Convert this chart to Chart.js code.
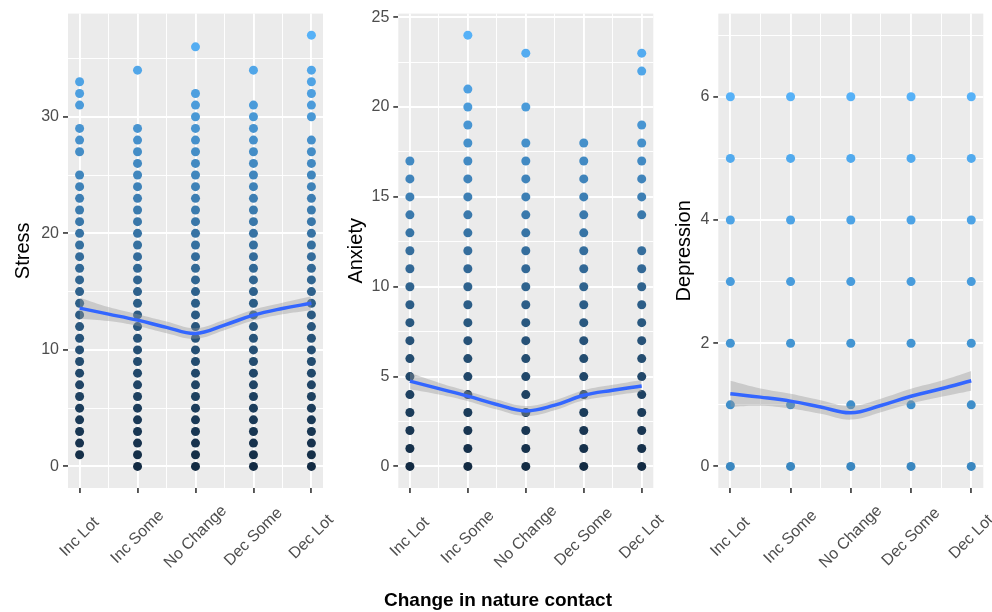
<!DOCTYPE html>
<html>
<head>
<meta charset="utf-8">
<script src="https://cdn.jsdelivr.net/npm/chart.js@4.4.1/dist/chart.umd.min.js"></script>
<style>
  html, body { margin: 0; padding: 0; background: #ffffff; }
  body { width: 992px; height: 612px; position: relative; overflow: hidden;
         font-family: "Liberation Sans", Arial, Helvetica, sans-serif; }
  .panel { position: absolute; top: 0; }
  .panel canvas { display: block; }
  #xtitle { position: absolute; left: 0; width: 996px; top: 590px; text-align: center;
            font-weight: bold; font-size: 19px; line-height: 19px; color: #000000; }
</style>
</head>
<body>
<div class="panel" style="left:0px"><canvas id="stressChart" width="345" height="612"></canvas></div>
<div class="panel" style="left:331px"><canvas id="anxietyChart" width="345" height="612"></canvas></div>
<div class="panel" style="left:662px"><canvas id="depressionChart" width="330" height="612"></canvas></div>
<div id="xtitle">Change in nature contact</div>

<script>
// Groups on the horizontal axis
const categories = ['Inc Lot', 'Inc Some', 'No Change', 'Dec Some', 'Dec Lot'];

// Observed scores per group (one inner list per category, in the order above)
const stressValues = [
  [1,2,3,4,5,6,7,8,9,10,11,12,13,14,15,16,17,18,19,20,21,22,23,24,25,27,28,29,31,32,33],
  [0,1,2,3,4,5,6,7,8,9,10,11,12,13,14,15,16,17,18,19,20,21,22,23,24,25,26,27,28,29,34],
  [0,1,2,3,4,5,6,7,8,9,10,11,12,13,14,15,16,17,18,19,20,21,22,23,24,25,26,27,28,29,30,31,32,36],
  [0,1,2,3,4,5,6,7,8,9,10,11,12,13,14,15,16,17,18,19,20,21,22,23,24,25,26,27,28,29,30,31,34],
  [0,1,2,3,4,5,6,7,8,9,10,11,12,13,14,15,16,17,18,19,20,21,22,23,24,25,26,27,28,30,31,32,33,34,37]
];
const anxietyValues = [
  [0,1,2,3,4,5,6,7,8,9,10,11,12,13,14,15,16,17],
  [0,1,2,3,4,5,6,7,8,9,10,11,12,13,14,15,16,17,18,19,20,21,24],
  [0,1,2,3,4,5,6,7,8,9,10,11,12,13,14,15,16,17,18,20,23],
  [0,1,2,3,4,5,6,7,8,9,10,11,12,13,14,15,16,17,18],
  [0,1,2,3,4,5,6,7,8,9,10,11,12,14,15,16,17,18,19,22,23]
];
const depressionValues = [
  [0,1,2,3,4,5,6],
  [0,1,2,3,4,5,6],
  [0,1,2,3,4,5,6],
  [0,1,2,3,4,5,6],
  [0,1,2,3,4,5,6]
];

// Smoothed trend with its confidence band, sampled at every half category
const fitX = [0, 0.5, 1, 1.5, 2, 2.5, 3, 3.5, 4];
const stressFit   = [13.58, 13.07, 12.55, 11.93, 11.41, 12.13, 12.98, 13.55, 14.00];
const stressUpper = [14.48, 13.67, 13.05, 12.43, 11.86, 12.58, 13.45, 14.05, 14.60];
const stressLower = [12.68, 12.47, 12.05, 11.43, 10.96, 11.68, 12.51, 13.05, 13.40];
const anxietyFit   = [4.75, 4.33, 3.91, 3.45, 3.09, 3.41, 3.96, 4.24, 4.48];
const anxietyUpper = [5.21, 4.66, 4.19, 3.73, 3.37, 3.69, 4.24, 4.54, 4.81];
const anxietyLower = [4.29, 4.00, 3.63, 3.17, 2.81, 3.13, 3.68, 3.94, 4.15];
const depressionFit   = [1.18, 1.125, 1.06, 0.965, 0.87, 0.99, 1.14, 1.26, 1.39];
const depressionUpper = [1.39, 1.265, 1.18, 1.075, 0.98, 1.10, 1.26, 1.39, 1.55];
const depressionLower = [0.97, 0.985, 0.94, 0.855, 0.76, 0.88, 1.02, 1.13, 1.23];

// Axis ticks (labelled majors and unlabelled minor grid lines)
const xMajorTicks = [0, 1, 2, 3, 4];
const xMinorTicks = [0.5, 1.5, 2.5, 3.5];
const stressTicks = [0, 10, 20, 30];
const stressMinorTicks = [5, 15, 25, 35];
const anxietyTicks = [0, 5, 10, 15, 20, 25];
const anxietyMinorTicks = [2.5, 7.5, 12.5, 17.5, 22.5];
const depressionTicks = [0, 2, 4, 6];
const depressionMinorTicks = [1, 3, 5, 7];

const FONT = '"Liberation Sans", Arial, Helvetica, sans-serif';

function hexToRgb(h) {
  const n = parseInt(h.slice(1), 16);
  return [(n >> 16) & 255, (n >> 8) & 255, n & 255];
}
function gradient(low, high, vmin, vmax) {
  const a = hexToRgb(low), b = hexToRgb(high);
  return v => {
    const t = Math.max(0, Math.min(1, (v - vmin) / (vmax - vmin)));
    const c = a.map((x, i) => Math.round(x + (b[i] - x) * t));
    return `rgb(${c[0]},${c[1]},${c[2]})`;
  };
}

// Grey panel background and rotated category labels
const panelDecor = {
  id: 'panelDecor',
  beforeDraw(chart) {
    const { ctx, chartArea: a } = chart;
    ctx.save();
    ctx.fillStyle = '#EBEBEB';
    ctx.fillRect(a.left, a.top, a.right - a.left, a.bottom - a.top);
    ctx.restore();
  },
  afterDraw(chart) {
    const { ctx } = chart;
    const xs = chart.scales.x;
    ctx.save();
    ctx.fillStyle = '#4D4D4D';
    ctx.font = '16px ' + FONT;
    ctx.textAlign = 'center';
    ctx.textBaseline = 'middle';
    categories.forEach((label, i) => {
      ctx.save();
      ctx.translate(xs.getPixelForValue(i), 537);
      ctx.rotate(-Math.PI / 4);
      ctx.fillText(label, 0, 0);
      ctx.restore();
    });
    ctx.restore();
  }
};

function makePanel(id, cfg) {
  const points = [];
  cfg.values.forEach((list, i) => list.forEach(v => points.push({ x: i, y: v })));
  const colorFor = gradient(cfg.lowColor, '#56B1F7', cfg.colorMin, Math.max(...points.map(p => p.y)));
  const series = arr => fitX.map((x, i) => ({ x, y: arr[i] }));
  const majorY = cfg.ticks;
  const allY = cfg.ticks.concat(cfg.minorTicks).sort((a, b) => a - b);
  const allX = xMajorTicks.concat(xMinorTicks).sort((a, b) => a - b);
  const isMajorY = v => majorY.includes(v);
  const isMajorX = v => xMajorTicks.includes(v);

  new Chart(document.getElementById(id), {
    type: 'line',
    data: {
      datasets: [
        {
          data: points, showLine: false, order: 4,
          pointRadius: 4.5, pointHoverRadius: 4.5, pointBorderWidth: 0,
          pointBackgroundColor: c => (c.raw ? colorFor(c.raw.y) : '#56B1F7'),
          pointBorderColor: 'rgba(0,0,0,0)'
        },
        {
          data: series(cfg.upper), order: 2, borderWidth: 0, borderColor: 'rgba(0,0,0,0)',
          pointRadius: 0, tension: 0.4,
          fill: '+1', backgroundColor: 'rgba(153,153,153,0.4)'
        },
        {
          data: series(cfg.lower), order: 2, borderWidth: 0, borderColor: 'rgba(0,0,0,0)',
          pointRadius: 0, tension: 0.4, fill: false
        },
        {
          data: series(cfg.fit), order: 1, borderColor: '#3366FF', borderWidth: 3.5,
          pointRadius: 0, tension: 0.4, fill: false
        }
      ]
    },
    options: {
      responsive: false,
      animation: false,
      devicePixelRatio: 1,
      events: [],
      layout: { padding: { left: 0, top: 11, right: cfg.padRight, bottom: 0 } },
      plugins: { legend: { display: false }, tooltip: { enabled: false } },
      scales: {
        x: {
          type: 'linear', min: -0.2, max: 4.2,
          afterBuildTicks: s => { s.ticks = allX.map(v => ({ value: v })); },
          afterFit: s => { s.height = 124; },
          ticks: { display: false, autoSkip: false },
          border: { display: false },
          grid: {
            color: '#FFFFFF',
            lineWidth: c => (c.tick && isMajorX(c.tick.value) ? 1.9 : 0.95),
            drawTicks: true, tickLength: 5,
            tickColor: c => (c.tick && isMajorX(c.tick.value) ? '#333333' : 'rgba(0,0,0,0)'),
            tickWidth: 1.6
          }
        },
        y: {
          type: 'linear', min: cfg.min, max: cfg.max,
          afterBuildTicks: s => { s.ticks = allY.map(v => ({ value: v })); },
          afterFit: s => { s.width = cfg.axisWidth; },
          ticks: {
            autoSkip: false, padding: 4, color: '#4D4D4D',
            font: { size: 16, family: FONT },
            callback: v => (isMajorY(v) ? String(v) : '')
          },
          border: { display: false },
          grid: {
            color: '#FFFFFF',
            lineWidth: c => (c.tick && isMajorY(c.tick.value) ? 1.9 : 0.95),
            drawTicks: true, tickLength: 5,
            tickColor: c => (c.tick && isMajorY(c.tick.value) ? '#333333' : 'rgba(0,0,0,0)'),
            tickWidth: 1.6
          },
          title: {
            display: true, text: cfg.title, color: '#000000',
            font: { size: 20, family: FONT },
            padding: { top: cfg.titlePad, bottom: 0 }
          }
        }
      }
    },
    plugins: [panelDecor]
  });
}

makePanel('stressChart', {
  title: 'Stress', values: stressValues, fit: stressFit, upper: stressUpper, lower: stressLower,
  ticks: stressTicks, minorTicks: stressMinorTicks, min: -1.85, max: 38.85,
  lowColor: '#132B43', colorMin: 0,
  axisWidth: 68, padRight: 22, titlePad: 11
});
makePanel('anxietyChart', {
  title: 'Anxiety', values: anxietyValues, fit: anxietyFit, upper: anxietyUpper, lower: anxietyLower,
  ticks: anxietyTicks, minorTicks: anxietyMinorTicks, min: -1.2, max: 25.2,
  lowColor: '#132B43', colorMin: 0,
  axisWidth: 67.3, padRight: 22.7, titlePad: 13
});
makePanel('depressionChart', {
  title: 'Depression', values: depressionValues, fit: depressionFit, upper: depressionUpper, lower: depressionLower,
  ticks: depressionTicks, minorTicks: depressionMinorTicks, min: -0.35, max: 7.35,
  lowColor: '#3A87C0', colorMin: 0,
  axisWidth: 56.3, padRight: 8.7, titlePad: 10
});
</script>
</body>
</html>
